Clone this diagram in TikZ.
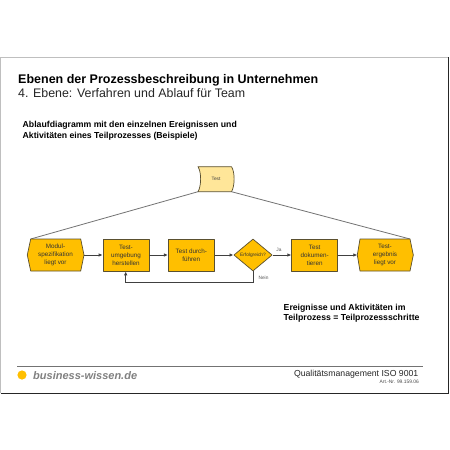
\documentclass[tikz,border=0pt]{standalone}
\usepackage{fontspec}
\setmainfont{Liberation Sans}
\usetikzlibrary{arrows.meta,shapes.geometric}
\definecolor{amber}{HTML}{FFBF00}
\definecolor{pale}{HTML}{FFE699}
\definecolor{edge}{HTML}{5A5030}
\definecolor{conn}{HTML}{404040}
\newcommand{\fs}[2]{\fontsize{#1bp}{#2bp}\selectfont}
\tikzset{
  x=1bp,y=-1bp,
  outline/.style={draw=edge,line width=0.7bp,fill=amber,line join=round},
  taskbox/.style={outline,minimum width=46bp,minimum height=32bp,inner sep=0pt,align=center,font=\fs{6.3}{7.9}\color{black!80}},
  evtext/.style={inner sep=0pt,align=center,font=\fs{6.3}{7.9}\color{black!80}},
  flow/.style={draw=conn,line width=0.9bp,-{Latex[length=4bp,width=3.5bp]}},
  plainline/.style={draw=black!55,line width=0.8bp},
  lab/.style={inner sep=0pt,font=\fs{4.8}{5}\color{black!65}},
  head/.style={inner sep=0pt,anchor=west,align=left},
}
\begin{document}
\begin{tikzpicture}
\useasboundingbox (0,0) rectangle (450,450);
\fill[white] (0,0) rectangle (450,450);
% page frame
\draw[black!25,line width=0.8bp] (0.8,393) -- (0.8,57.5) -- (448,57.5);
\draw[black!85,line width=0.9bp] (0.8,393) -- (448,393) -- (448,57.5);
% headings
\node[head,font=\fs{12.5}{13}\bfseries] (title) at (18,80.5) {Ebenen der Prozessbeschreibung in Unternehmen};
\node[head,font=\fs{12.4}{13}\color{black!85}] (sub) at (18,93.5) {4. Ebene: Verfahren und Ablauf für Team};
\node[head,font=\fs{8.7}{9}\bfseries] (intro1) at (22.5,125.5) {Ablaufdiagramm mit den einzelnen Ereignissen und};
\node[head,font=\fs{8.7}{9}\bfseries] (intro2) at (22.5,136.5) {Aktivitäten eines Teilprozesses (Beispiele)};
% role shape
\draw[outline,fill=pale] (198,166.7) -- (231.5,166.7) .. controls (235,172) and (235,186) .. (231.5,191.7) -- (198,191.7) .. controls (201.5,186) and (201.5,172) .. (198,166.7) -- cycle;
\node[lab,font=\fs{4.8}{5}\color{black!75}] (role) at (216,179.3) {Test};
% events
\coordinate (rolel) at (198,191.7);
\coordinate (roler) at (231.5,191.7);
\coordinate (startc) at (30.7,239);
\coordinate (endc) at (410,239);
\draw[plainline] (rolel) -- (startc);
\draw[plainline] (roler) -- (endc);
\draw[outline] (30.7,239) -- (80.7,239) -- (84,255) -- (80.7,271) -- (30.7,271) -- (27.3,255) -- cycle;
\node[evtext] (start) at (55.5,255) {Modul-\\spezifikation\\liegt vor};
\draw[outline] (360,239) -- (410,239) -- (413.3,255) -- (410,271) -- (360,271) -- (357.3,255) -- cycle;
\node[evtext] (end) at (385,255) {Test-\\ergebnis\\liegt vor};
% tasks
\node[taskbox] (t1) at (126,255) {Test-\\umgebung\\herstellen};
\node[taskbox] (t2) at (191.3,255) {Test durch-\\führen};
\node[taskbox] (t3) at (314.7,255) {Test\\dokumen-\\tieren};
\node[outline,diamond,aspect=1.2,minimum width=38.3bp,minimum height=32bp,inner sep=0pt] (d) at (253,255) {};
\node[inner sep=0pt,font=\fs{4.8}{5}\color{black!80}] (dl) at (253,255) {Erfolgreich?};
% connectors
\coordinate (s1) at (84,255);
\coordinate (e2) at (357.3,255);
\draw[flow] (s1) -- (t1.west);
\draw[flow] (t1.east) -- (t2.west);
\draw[flow] (t2.east) -- (d.west);
\draw[flow] (d.east) -- (t3.west);
\draw[flow] (t3.east) -- (e2);
\coordinate (lp1) at (253,282);
\coordinate (lp2) at (125.7,282);
\draw[flow] (d.south) -- (lp1) -- (lp2) -- (lp2 |- t1.south);
\node[lab] (ja) at (279,249.5) {Ja};
\node[lab] (nein) at (263.5,277.7) {Nein};
% note
\node[head,font=\fs{8.7}{9}\bfseries] (n1) at (283.5,308) {Ereignisse und Aktivitäten im};
\node[head,font=\fs{8.7}{9}\bfseries] (n2) at (283.5,318.5) {Teilprozess = Teilprozessschritte};
% footer
\coordinate (fl) at (17,366.3);
\coordinate (fr) at (423,366.3);
\draw[black!55,line width=0.6bp] (fl) -- (fr);
\fill[amber] (22,375) circle (4.6);
\node[head,font=\fs{11}{12}\bfseries\itshape\color{black!50}] (brand) at (33,375.5) {business-wissen.de};
\node[inner sep=0pt,anchor=east,font=\fs{8.7}{9}\color{black!85}] (qm) at (418.5,374.5) {Qualitätsmanagement ISO 9001};
\node[inner sep=0pt,anchor=east,font=\fs{4.9}{5}\color{black!70}] (art) at (419,382.3) {Art.-Nr. 99.159.06};
\end{tikzpicture}
\end{document}
